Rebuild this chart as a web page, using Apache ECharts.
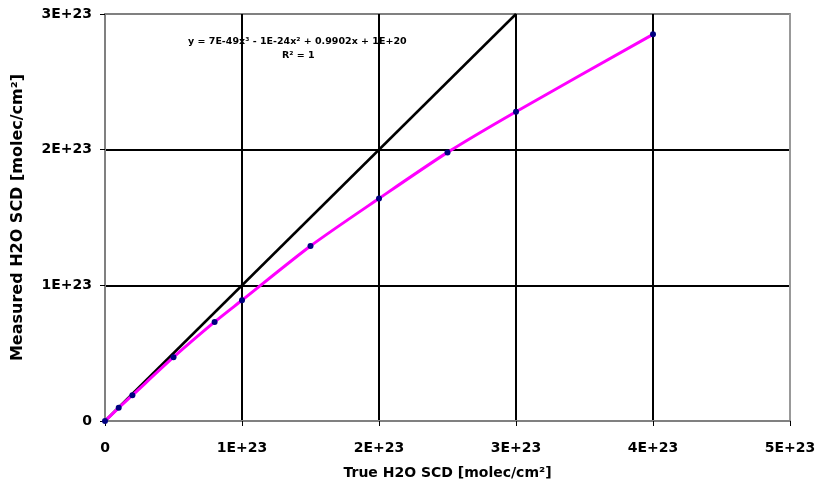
<!DOCTYPE html>
<html>
<head>
<meta charset="utf-8">
<script src="https://cdn.jsdelivr.net/npm/echarts@6/dist/echarts.min.js"></script>
<style>
  html, body { margin: 0; padding: 0; background: #fff; }
  #chart { width: 819px; height: 491px; }
</style>
</head>
<body>
<div id="chart"></div>
<script>
// True vs measured H2O slant column densities
const trueScd = [0, 0.1e23, 0.2e23, 0.5e23, 0.8e23, 1.0e23, 1.5e23, 2.0e23, 2.5e23, 3.0e23, 4.0e23]
const measuredScd = [0, 0.097e23, 0.19e23, 0.47e23, 0.73e23, 0.89e23, 1.29e23, 1.64e23, 1.98e23, 2.28e23, 2.85e23]
// 1:1 reference line
const oneToOneX = [0, 3e23]
const oneToOneY = [0, 3e23]
const fitLabel = 'y = 7E-49x³ - 1E-24x² + 0.9902x + 1E+20'
const r2Label = 'R² = 1'

let font = 'DejaVu Sans'
let fmt = function (v) {
  if (v === 0) return '0'
  return Math.round(v / 1e23) + 'E+23'
}

let myChart = echarts.init(document.getElementById('chart'))
myChart.setOption({
  animation: false,
  backgroundColor: '#fff',
  grid: {
    left: 105,
    right: 29,
    top: 14,
    bottom: 70,
    show: true,
    borderColor: '#999',
    borderWidth: 2
  },
  xAxis: {
    type: 'value',
    min: 0,
    max: 5e23,
    interval: 1e23,
    name: 'True H2O SCD [molec/cm²]',
    nameLocation: 'middle',
    nameGap: 45,
    nameTextStyle: { fontFamily: font, fontWeight: 'bold', fontSize: 14, color: '#000' },
    axisLine: { lineStyle: { color: '#808080', width: 2 } },
    axisTick: { show: true, length: 5, lineStyle: { color: '#000', width: 1 } },
    axisLabel: { formatter: fmt, fontFamily: font, fontWeight: 'bold', fontSize: 14, color: '#000', margin: 20 },
    splitLine: { show: true, lineStyle: { color: ['#808080', '#000', '#000', '#000', '#000', '#999'], width: 2 } }
  },
  yAxis: {
    type: 'value',
    min: 0,
    max: 3e23,
    interval: 1e23,
    name: 'Measured H2O SCD [molec/cm²]',
    nameLocation: 'middle',
    nameGap: 79,
    nameTextStyle: { fontFamily: font, fontWeight: 'bold', fontSize: 16, color: '#000' },
    axisLine: { show: true, lineStyle: { color: '#808080', width: 2 } },
    axisTick: { show: true, length: 5, lineStyle: { color: '#000', width: 1 } },
    axisLabel: { formatter: fmt, fontFamily: font, fontWeight: 'bold', fontSize: 14, color: '#000', margin: 13 },
    splitLine: { show: true, lineStyle: { color: ['#808080', '#000', '#000', '#999'], width: 2 } }
  },
  series: [
    {
      type: 'line',
      data: oneToOneX.map((x, i) => [x, oneToOneY[i]]),
      showSymbol: false,
      symbol: 'none',
      lineStyle: { color: '#000', width: 2.5 },
      z: 3
    },
    {
      type: 'line',
      data: trueScd.map((x, i) => [x, measuredScd[i]]),
      smooth: 0.25,
      symbol: 'circle',
      symbolSize: 6,
      itemStyle: { color: '#000080' },
      lineStyle: { color: '#ff00ff', width: 3 },
      z: 4
    }
  ],
  graphic: [
    {
      type: 'text',
      left: 188,
      top: 37,
      z: 10,
      style: { text: fitLabel, font: 'bold 9.5px "DejaVu Sans"', fill: '#000' }
    },
    {
      type: 'text',
      left: 282,
      top: 51,
      z: 10,
      style: { text: r2Label, font: 'bold 9.5px "DejaVu Sans"', fill: '#000' }
    }
  ]
})
</script>
</body>
</html>
